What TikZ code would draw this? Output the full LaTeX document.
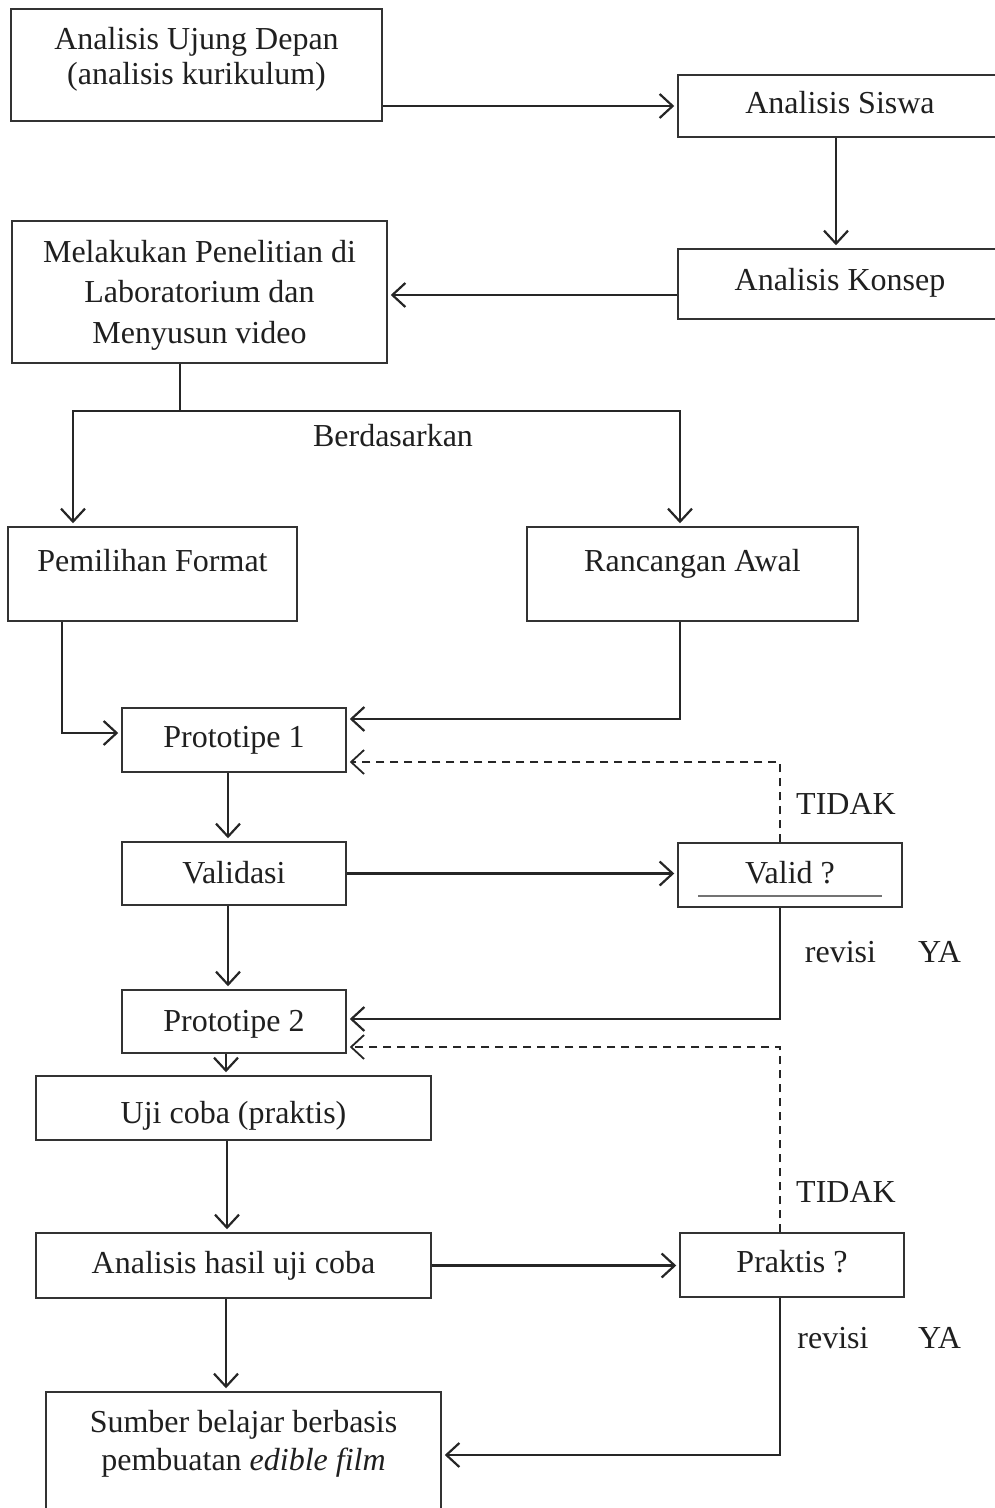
\documentclass[tikz,border=0pt]{standalone}
\usepackage{fontspec}
\setmainfont{Liberation Serif}
\usetikzlibrary{arrows.meta}
\newcommand\fsz{\fontsize{32}{34}\selectfont}
\begin{document}
\begin{tikzpicture}[x=1pt,y=-1pt,
  box/.style={draw=black!80, line width=1.5pt, inner xsep=0pt, inner ysep=0pt, anchor=base, font=\fsz, text=black!88},
  lbl/.style={anchor=base, inner sep=0pt, font=\fsz, text=black!88},
  arr/.style={draw=black!85, line width=2.2pt, -{Straight Barb[length=13pt,width=24pt]}, shorten >=3pt},
  ln/.style={draw=black!85, line width=2.2pt},
  dsh/.style={dash pattern=on 8pt off 6pt}]
\useasboundingbox (0,0) rectangle (995,1508);
\clip (0,0) rectangle (995,1508);
% boxes
\node[box, minimum width=371pt, text height=40pt, text depth=72pt] (A) at (196.5,49)
  {\fontsize{32}{35}\selectfont\begin{tabular}[t]{@{}c@{}}Analisis Ujung Depan\\(analisis kurikulum)\end{tabular}};
\node[box, minimum width=324pt, text height=38pt, text depth=24pt] (B) at (840,113) {Analisis Siswa};
\node[box, minimum width=324pt, text height=41pt, text depth=29pt] (C) at (840,290) {Analisis Konsep};
\node[box, minimum width=375pt, text height=41pt, text depth=101pt] (D) at (199.5,262)
  {\fontsize{32}{40.5}\selectfont\begin{tabular}[t]{@{}c@{}}Melakukan Penelitian di\\Laboratorium dan\\Menyusun video\end{tabular}};
\node[lbl] (berd) at (393,446) {Berdasarkan};
\node[box, minimum width=289pt, text height=44pt, text depth=50pt] (E) at (152.5,571) {Pemilihan Format};
\node[box, minimum width=331pt, text height=44pt, text depth=50pt] (F) at (692.5,571) {Rancangan Awal};
\node[box, minimum width=224pt, text height=39pt, text depth=25pt] (P1) at (234,747) {Prototipe 1};
\node[box, minimum width=224pt, text height=41pt, text depth=22pt] (Val) at (234,883) {Validasi};
\node[box, minimum width=224pt, text height=40pt, text depth=24pt] (V) at (790,883) {Valid ?};
\node[box, minimum width=224pt, text height=41pt, text depth=22pt] (P2) at (234,1031) {Prototipe 2};
\node[box, minimum width=395pt, text height=47pt, text depth=17pt] (U) at (233.5,1123) {Uji coba (praktis)};
\node[box, minimum width=395pt, text height=40pt, text depth=25pt] (AH) at (233.5,1273) {Analisis hasil uji coba};
\node[box, minimum width=224pt, text height=39pt, text depth=25pt] (Pr) at (792,1272) {Praktis ?};
\node[box, minimum width=395pt, text height=40pt, text depth=83pt] (S) at (243.5,1432)
  {\fontsize{32}{38}\selectfont\begin{tabular}[t]{@{}c@{}}Sumber belajar berbasis\\pembuatan \textit{edible film}\end{tabular}};
% labels
\node[lbl] (t1) at (846,814) {TIDAK};
\node[lbl] (r1) at (840.5,962) {revisi};
\node[lbl] (y1) at (939.5,962) {YA};
\node[lbl] (t2) at (846,1202) {TIDAK};
\node[lbl] (r2) at (833,1348) {revisi};
\node[lbl] (y2) at (939.5,1348) {YA};
% underline in Valid ?
\draw[black!55, line width=1.2pt] ([xshift=-92pt,yshift=-21pt]V.center) -- ([xshift=92pt,yshift=-21pt]V.center);
% connectors
\draw[arr] (A.east |- B.west) -- (B.west);
\draw[arr] ([xshift=-4pt]B.south) -- ([xshift=-4pt]B.south |- C.north);
\draw[arr] ([yshift=-11pt]C.west) -- ([yshift=-11pt]C.west -| D.east);
\coordinate (j) at (180,411);
\draw[ln] ([xshift=-19.5pt]D.south) -- (j);
\draw[arr] (j) -| ([xshift=-79.5pt]E.north);
\draw[arr] (j) -| ([xshift=-12.5pt]F.north);
\draw[arr] ([xshift=-90.5pt]E.south) |- ([yshift=7pt]P1.west);
\draw[arr] ([xshift=-12.5pt]F.south) |- ([yshift=21pt]P1.east);
\draw[arr, dsh, line width=1.8pt] ([xshift=-10pt]V.north) |- ([yshift=-22pt]P1.east);
\draw[arr] ([xshift=-6pt]P1.south) -- ([xshift=-6pt]P1.south |- Val.north);
\draw[arr] (Val.east) -- (Val.east -| V.west);
\draw[arr] ([xshift=-10pt]V.south) |- ([yshift=2.5pt]P2.east);
\draw[arr] ([xshift=-6pt]Val.south) -- ([xshift=-6pt]Val.south |- P2.north);
\draw[arr, dsh, line width=1.8pt] ([xshift=-12pt]Pr.north) |- ([yshift=-25.5pt]P2.east);
\draw[arr] ([xshift=-8pt]P2.south) -- ([xshift=-8pt]P2.south |- U.north);
\draw[arr] ([xshift=-6.5pt]U.south) -- ([xshift=-6.5pt]U.south |- AH.north);
\draw[arr] (AH.east) -- (AH.east -| Pr.west);
\draw[arr] ([xshift=-7.5pt]AH.south) -- ([xshift=-7.5pt]AH.south |- S.north);
\draw[arr] ([xshift=-12pt]Pr.south) |- ([yshift=-1.5pt]S.east);
\end{tikzpicture}
\end{document}
